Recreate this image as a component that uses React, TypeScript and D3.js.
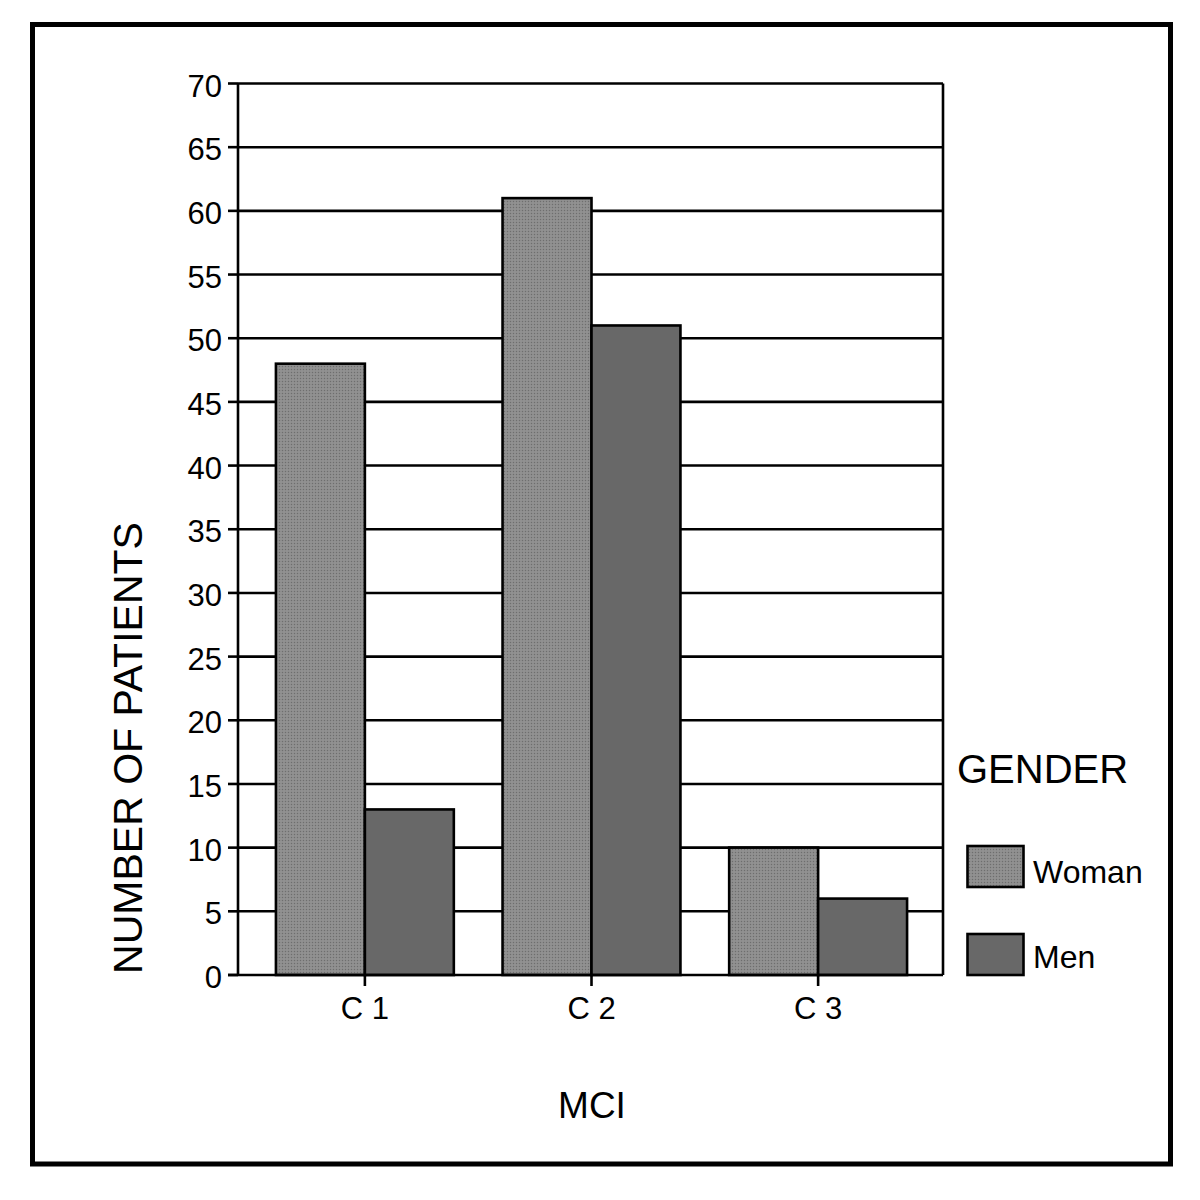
import React from "react";
import * as d3 from "d3";

const categories = ["C 1", "C 2", "C 3"];
const seriesNames = ["Woman", "Men"];
const womanValues = [48, 61, 10];
const menValues = [13, 51, 6];
const yTicks = [0, 5, 10, 15, 20, 25, 30, 35, 40, 45, 50, 55, 60, 65, 70];

const FONT = "'Liberation Sans', Arial, sans-serif";

export default function App() {
  const W = 1200, H = 1200;
  const plotL = 238, plotR = 943, plotT = 83.5, plotB = 975;
  const y = d3.scaleLinear().domain([0, 70]).range([plotB, plotT]);
  const x = d3.scaleBand<string>().domain(categories).range([251, 932]).paddingInner(0.215).paddingOuter(0.11);
  const xs = d3.scaleBand<string>().domain(seriesNames).range([0, x.bandwidth()]);
  const data = [womanValues, menValues];
  const fills = ["url(#womanPat)", "#686868"];
  const sw = 2.6;

  return (
    <svg width={W} height={H} style={{ display: "block", position: "absolute", left: 0, top: 0 }} fontFamily={FONT}>
      <defs>
        <pattern id="womanPat" width="3" height="3" patternUnits="userSpaceOnUse">
          <rect width="3" height="3" fill="#8c8c8c" />
          <rect width="1" height="1" fill="#6e6e6e" />
          <rect x="1.5" y="1.5" width="1" height="1" fill="#a0a0a0" />
        </pattern>
      </defs>
      <rect x={0} y={0} width={W} height={H} fill="#fff" />
      <rect x={32.5} y={24.5} width={1138} height={1139.5} fill="none" stroke="#000" strokeWidth={5} />

      {/* gridlines and y ticks */}
      {yTicks.map((t) => (
        <g key={t}>
          {t > 0 && <line x1={plotL} x2={plotR} y1={y(t)} y2={y(t)} stroke="#000" strokeWidth={sw} />}
          <line x1={228} x2={plotL} y1={y(t)} y2={y(t)} stroke="#000" strokeWidth={sw} />
          <text x={222} y={y(t)} dy="0.42em" textAnchor="end" fontSize={31}>{t}</text>
        </g>
      ))}

      {/* bars */}
      {categories.map((c, i) => (
        <g key={c}>
          {seriesNames.map((s, j) => (
            <rect key={s}
              x={(x(c) as number) + (xs(s) as number)}
              y={y(data[j][i])}
              width={xs.bandwidth()}
              height={y(0) - y(data[j][i])}
              fill={fills[j]} stroke="#000" strokeWidth={sw} />
          ))}
        </g>
      ))}

      {/* axes frame */}
      <line x1={plotL} x2={plotL} y1={plotT} y2={plotB} stroke="#000" strokeWidth={sw} />
      <line x1={plotR} x2={plotR} y1={plotT} y2={plotB} stroke="#000" strokeWidth={sw} />
      <line x1={228} x2={plotR} y1={plotB} y2={plotB} stroke="#000" strokeWidth={sw} />

      {/* x ticks */}
      {categories.map((c) => {
        const cx = (x(c) as number) + x.bandwidth() / 2;
        return (
          <g key={c}>
            <line x1={cx} x2={cx} y1={plotB} y2={plotB + 11} stroke="#000" strokeWidth={sw} />
            <text x={cx} y={1019} textAnchor="middle" fontSize={31}>{c}</text>
          </g>
        );
      })}

      <text x={592} y={1118} textAnchor="middle" fontSize={37}>MCI</text>
      <text transform={`translate(142,748) rotate(-90)`} textAnchor="middle" fontSize={41}>NUMBER OF PATIENTS</text>

      {/* legend */}
      <text x={957} y={783} fontSize={40}>GENDER</text>
      {seriesNames.map((s, j) => (
        <g key={s}>
          <rect x={967.5} y={[846, 934][j]} width={56} height={41} fill={fills[j]} stroke="#000" strokeWidth={sw} />
          <text x={1033} y={[883, 968][j]} fontSize={32}>{s}</text>
        </g>
      ))}
    </svg>
  );
}
